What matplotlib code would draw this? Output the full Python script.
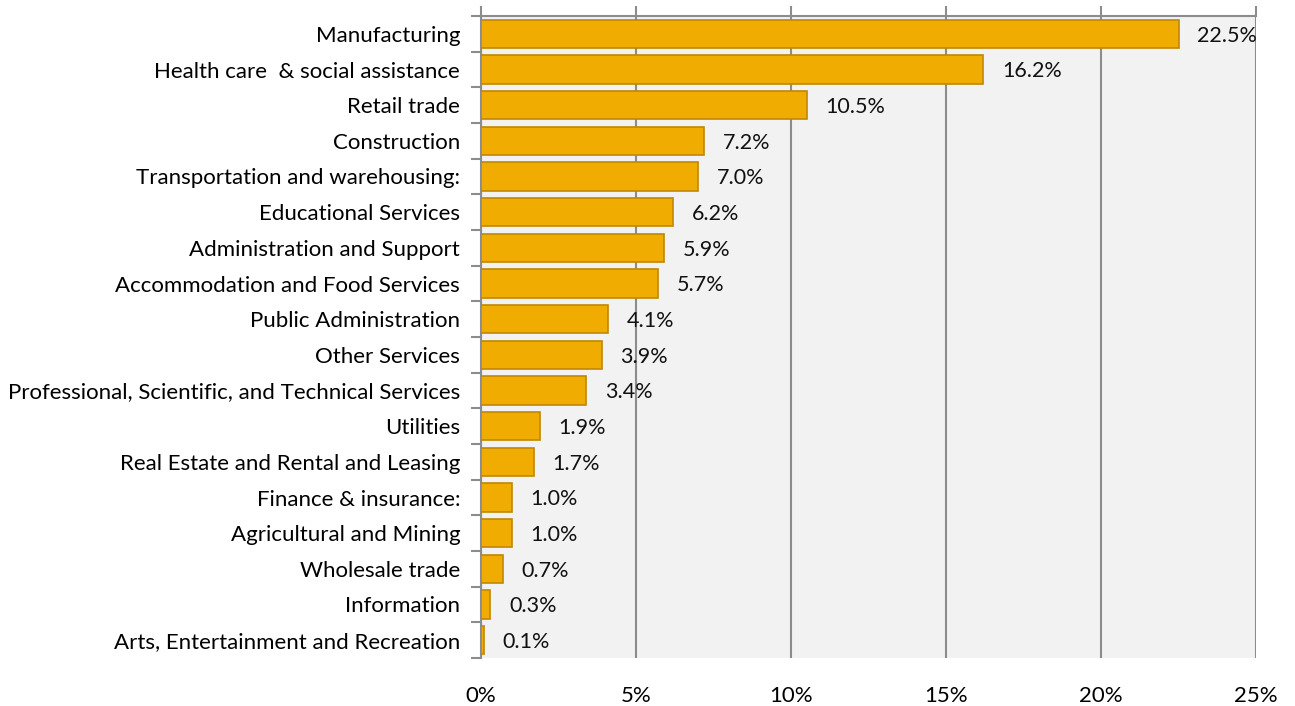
import matplotlib
matplotlib.use("Agg")
import matplotlib.pyplot as plt

industries = [
    "Manufacturing",
    "Health care  & social assistance",
    "Retail trade",
    "Construction",
    "Transportation and warehousing:",
    "Educational Services",
    "Administration and Support",
    "Accommodation and Food Services",
    "Public Administration",
    "Other Services",
    "Professional, Scientific, and Technical Services",
    "Utilities",
    "Real Estate and Rental and Leasing",
    "Finance & insurance:",
    "Agricultural and Mining",
    "Wholesale trade",
    "Information",
    "Arts, Entertainment and Recreation",
]
shares = [22.5, 16.2, 10.5, 7.2, 7.0, 6.2, 5.9, 5.7, 4.1, 3.9, 3.4,
          1.9, 1.7, 1.0, 1.0, 0.7, 0.3, 0.1]
x_ticks = [0, 5, 10, 15, 20, 25]

plt.rcParams['font.family'] = ['Lato', 'DejaVu Sans']

fig = plt.figure(figsize=(12.95, 7.06), dpi=100)
ax = fig.add_axes([481 / 1295, 1 - 658 / 706, (1256 - 481) / 1295, (658 - 16) / 706])
ax.set_facecolor('#F2F2F2')

y = list(range(len(industries)))
ax.barh(y, shares, height=0.8, color='#F0AC00', edgecolor='#C08800', linewidth=1.2, zorder=3)

# value labels just right of each bar
for yi, v in zip(y, shares):
    ax.text(v + 0.6, yi + 0.05, f"{v:.1f}%", va='center', ha='left', fontsize=15.5,
            color='#111111', zorder=4)

ax.set_xlim(0, 25)
ax.set_ylim(len(industries) - 0.5, -0.5)
ax.set_yticks(y)
ax.set_yticklabels(industries, fontsize=16)
ax.set_xticks(x_ticks)
ax.set_xticklabels([f"{t}%" for t in x_ticks], fontsize=16)

ax.grid(axis='x', color='#8C8C8C', linewidth=1.5, zorder=1)
ax.tick_params(axis='x', top=True, bottom=False, labeltop=False, labelbottom=True,
               length=7, width=1.5, color='#8C8C8C', pad=13)
ax.set_yticks([i + 0.5 for i in range(-1, len(industries))], minor=True)
ax.tick_params(axis='y', which='major', length=0, pad=15)
ax.tick_params(axis='y', which='minor', length=7, width=1.5, color='#8C8C8C')

for s in ['right', 'bottom']:
    ax.spines[s].set_visible(False)
for s in ['top', 'left']:
    ax.spines[s].set_color('#8C8C8C')
    ax.spines[s].set_linewidth(1.5)

fig.savefig('out.png', dpi=100)
